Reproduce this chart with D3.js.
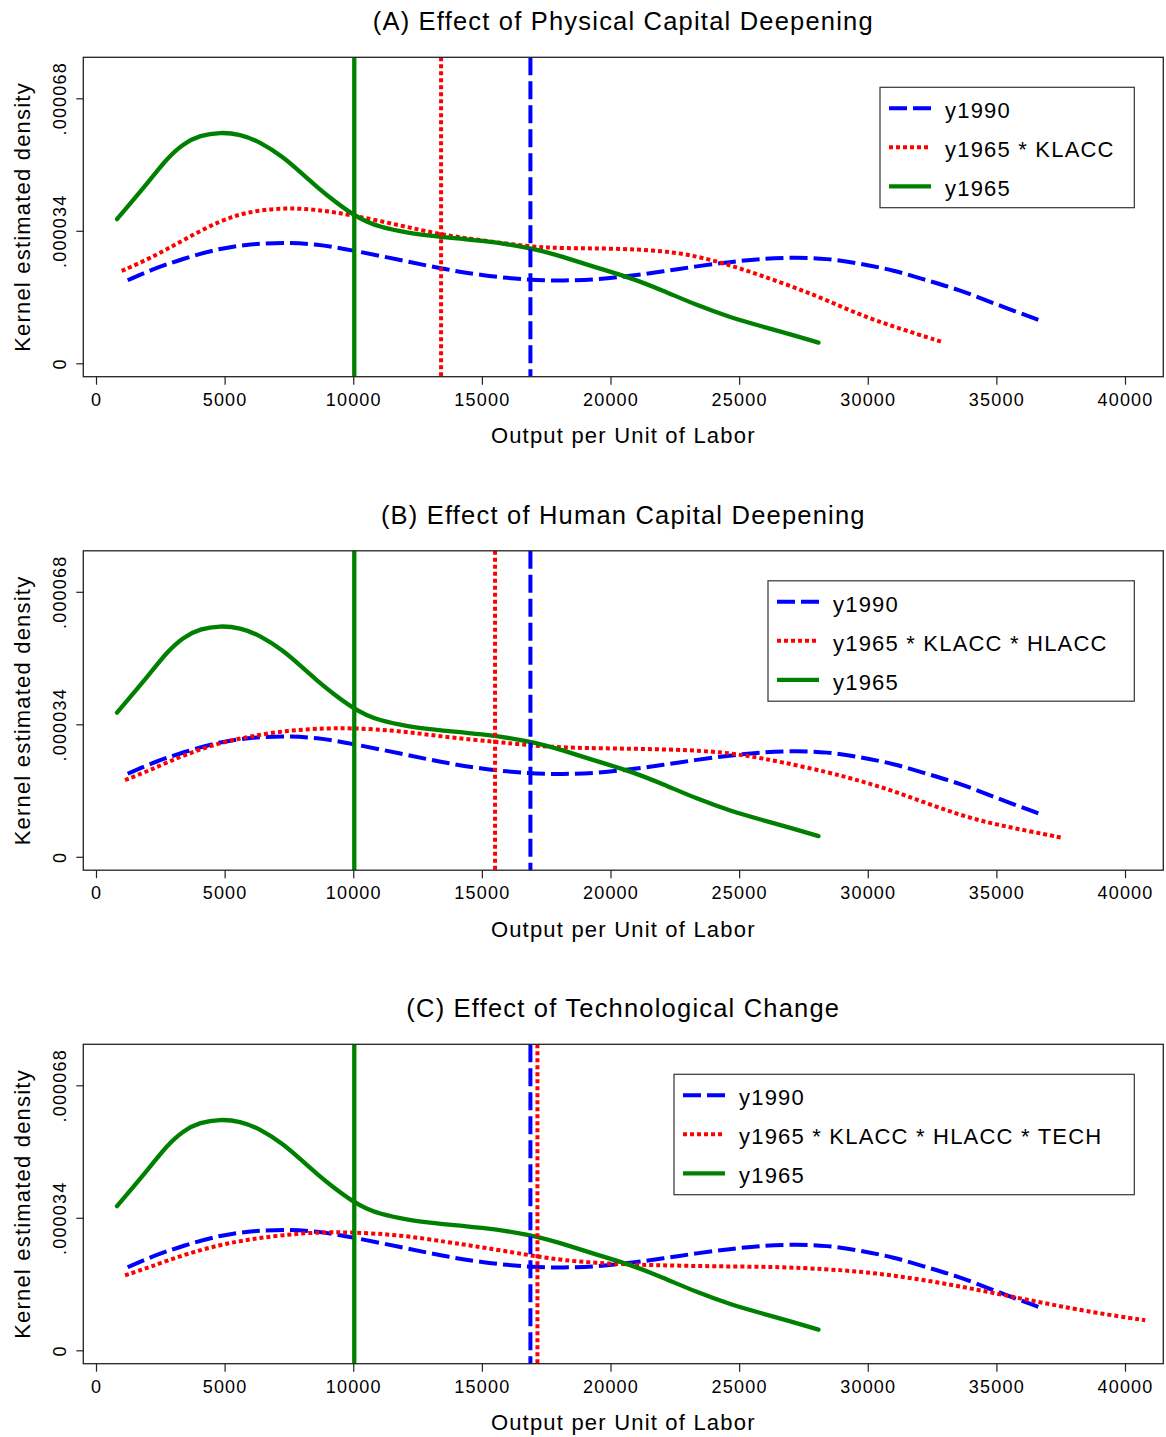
<!DOCTYPE html>
<html>
<head>
<meta charset="utf-8">
<script src="https://d3js.org/d3.v7.min.js"></script>
<style>
    body { margin: 0; background: #fff; }
    text {
        font-family: "Liberation Sans", Arial, Helvetica, sans-serif;
        fill: #000;
        letter-spacing: 1.2px;
    }
    .tick text { font-size: 18px; }
    .tick line { stroke: #222; stroke-width: 1.2px; }
    .title { font-size: 25.5px; }
    .axis-title { font-size: 22px; }
    .legend text { font-size: 22px; }
    .box { fill: none; stroke: #222; stroke-width: 1.3px; }
    .legend-box { fill: #fff; stroke: #333; stroke-width: 1.2px; }
</style>
</head>
<body>
<script>
    // density values are in units of 1e-6
    const xTicks = [0, 5000, 10000, 15000, 20000, 25000, 30000, 35000, 40000];
    const yTicks = [0, 34, 68];
    const yTickLabels = ["0", ".000034", ".000068"];

    // [output per worker, density]
    const y1965 = [[816, 37.0], [2100, 47.0], [2748, 52.5], [3396, 56.4], [4044, 58.5], [4821, 59.3],
        [5599, 58.8], [6376, 56.8], [7284, 52.9], [7932, 49.1], [8580, 45.3], [9227, 41.8],
        [9980, 38.2], [10525, 36.3], [11042, 35.0], [11820, 33.9], [12337, 33.2], [13414, 32.4],
        [14930, 31.6], [16887, 29.7], [18170, 27.3], [19467, 24.5], [20762, 22.0], [22057, 18.6],
        [23353, 14.9], [24650, 11.8], [25816, 9.6], [27112, 7.2], [28085, 5.3]];

    const y1990 = [[1232, 21.3], [2100, 23.9], [3396, 26.9], [4821, 29.5], [5988, 30.6], [7284, 31.0],
        [8580, 30.6], [9980, 29.0], [11820, 26.5], [13414, 24.3], [14930, 22.6], [16887, 21.3],
        [18170, 21.2], [19467, 21.5], [20762, 22.4], [22057, 23.6], [23353, 24.9], [24650, 26.0],
        [25816, 26.8], [27112, 27.2], [28408, 26.9], [29705, 25.6], [31000, 23.9], [32297, 21.3],
        [33593, 18.8], [34888, 15.4], [36769, 10.8]];

    const y1965K = [[998, 23.7], [2100, 26.9], [3396, 31.6], [4821, 36.7], [5988, 39.0], [7284, 39.9],
        [8580, 39.5], [9980, 38.0], [11820, 35.4], [13414, 33.0], [14930, 31.6], [16887, 29.9],
        [18170, 29.5], [20114, 29.5], [22057, 28.9], [23353, 27.5], [24650, 25.2], [25816, 22.6],
        [27112, 19.6], [28408, 16.2], [29705, 12.4], [31000, 9.4], [32880, 5.5]];

    const y1965KH = [[1128, 19.7], [2100, 22.2], [3396, 26.1], [4821, 29.3], [5988, 30.9], [7284, 32.3],
        [8580, 32.9], [9980, 33.1], [11820, 32.3], [13634, 30.7], [15513, 29.5], [16887, 28.6],
        [18170, 28.0], [20114, 27.8], [22057, 27.6], [24002, 27.1], [25298, 26.0], [26594, 24.4],
        [28408, 21.8], [29705, 19.5], [31000, 16.9], [32297, 13.7], [33593, 10.7], [34888, 8.4],
        [36185, 6.7], [37546, 4.9]];

    const y1965KHT = [[1128, 19.2], [2100, 21.4], [3396, 24.5], [4821, 27.1], [5988, 28.5], [7284, 29.6],
        [8580, 30.3], [9980, 30.3], [11820, 29.6], [13634, 27.8], [14930, 26.5], [16226, 25.1],
        [17133, 24.1], [18170, 23.1], [19467, 22.4], [20762, 22.0], [22705, 21.7], [24650, 21.5],
        [26594, 21.4], [28408, 20.8], [29705, 20.2], [31000, 19.2], [32297, 17.9], [33593, 16.4],
        [34888, 14.7], [36185, 13.0], [37482, 11.3], [38778, 9.7], [40786, 7.7]];

    // means drawn as vertical lines
    const meanY1965 = 10040;
    const meanY1990 = 16887;
    const counterMeans = [13414, 15513, 17160];

    const titles = ["(A) Effect of Physical Capital Deepening",
        "(B) Effect of Human Capital Deepening",
        "(C) Effect of Technological Change"];
    const counterLabels = ["y1965 * KLACC", "y1965 * KLACC * HLACC", "y1965 * KLACC * HLACC * TECH"];
    const counterSeries = [y1965K, y1965KH, y1965KHT];

    // layout
    const panelStep = 493.5;
    const legendLeft = [880, 768, 674];
    const box = { left: 83.3, right: 1163.3, top: 57.3, bottom: 376.7 };

    const styles = {
        blue: { color: "#0000ff", dash: "18,6", width: 4 },
        red: { color: "#ff0000", dash: "4,3", width: 4 },
        green: { color: "#008000", dash: null, width: 4.3 }
    };

    let svg = d3.select("body").append("svg")
        .attr("width", 1166)
        .attr("height", 1437);

    svg.append("rect").attr("width", 1166).attr("height", 1437).attr("fill", "#fff");

    let x = d3.scaleLinear().domain([0, 40000]).range([96, 1125]);

    function applyStyle(sel, s) {
        sel.attr("fill", "none")
            .attr("stroke", s.color)
            .attr("stroke-width", s.width)
            .attr("stroke-dasharray", s.dash)
            .attr("stroke-linecap", s.dash ? "butt" : "round")
            .attr("stroke-linejoin", "round");
    }

    function drawPanel(i) {
        let off = i * panelStep;
        let g = svg.append("g");
        let y = d3.scaleLinear().domain([0, 68]).range([363.3 + off, 98.3 + off]);

        g.append("text")
            .attr("class", "title")
            .attr("x", 623.3)
            .attr("y", 30 + off)
            .attr("text-anchor", "middle")
            .text(titles[i]);

        let clipId = "clip" + i;
        g.append("clipPath").attr("id", clipId)
            .append("rect")
            .attr("x", box.left).attr("y", box.top + off)
            .attr("width", box.right - box.left)
            .attr("height", box.bottom - box.top);

        let plot = g.append("g").attr("clip-path", "url(#" + clipId + ")");

        let line = d3.line()
            .x(d => x(d[0]))
            .y(d => y(d[1]))
            .curve(d3.curveBasis);

        plot.append("path").datum(y1990).attr("d", line).call(applyStyle, styles.blue);
        plot.append("path").datum(counterSeries[i]).attr("d", line).call(applyStyle, styles.red);
        plot.append("path").datum(y1965).attr("d", line).call(applyStyle, styles.green);

        // vertical mean lines
        let vlines = [
            { v: meanY1965, s: styles.green },
            { v: counterMeans[i], s: styles.red },
            { v: meanY1990, s: styles.blue }
        ];
        plot.selectAll(".vline")
            .data(vlines)
            .enter().append("line")
            .attr("class", "vline")
            .attr("x1", d => x(d.v)).attr("x2", d => x(d.v))
            .attr("y1", box.top + off).attr("y2", box.bottom + off)
            .each(function(d) { d3.select(this).call(applyStyle, d.s); })
            .attr("stroke-linecap", "butt");

        g.append("rect")
            .attr("class", "box")
            .attr("x", box.left).attr("y", box.top + off)
            .attr("width", box.right - box.left)
            .attr("height", box.bottom - box.top);

        // x axis
        let xAxis = g.append("g")
            .attr("transform", "translate(0," + (box.bottom + off) + ")")
            .call(d3.axisBottom(x).tickValues(xTicks).tickSize(8).tickPadding(8.5).tickFormat(d3.format("d")));
        xAxis.select(".domain").remove();
        xAxis.selectAll("text").attr("fill", "#000");

        // y axis with rotated labels
        let yAxis = g.append("g")
            .attr("transform", "translate(" + box.left + ",0)")
            .call(d3.axisLeft(y).tickValues(yTicks).tickSize(7).tickFormat((d, k) => yTickLabels[k]));
        yAxis.select(".domain").remove();
        yAxis.selectAll("text")
            .attr("fill", "#000")
            .attr("transform", "rotate(-90)")
            .attr("x", 0)
            .attr("y", -17.3)
            .attr("dy", 0)
            .attr("text-anchor", "middle");

        g.append("text")
            .attr("class", "axis-title")
            .attr("x", 623.3)
            .attr("y", 443 + off)
            .attr("text-anchor", "middle")
            .text("Output per Unit of Labor");

        g.append("text")
            .attr("class", "axis-title")
            .attr("transform", "translate(30," + (217 + off) + ") rotate(-90)")
            .attr("text-anchor", "middle")
            .text("Kernel estimated density");

        // legend
        let lx = legendLeft[i], ly = 87.3 + off;
        let legend = g.append("g").attr("class", "legend");
        legend.append("rect")
            .attr("class", "legend-box")
            .attr("x", lx).attr("y", ly)
            .attr("width", 1134.3 - lx)
            .attr("height", 120.4);

        let items = [
            { label: "y1990", s: styles.blue },
            { label: counterLabels[i], s: styles.red },
            { label: "y1965", s: styles.green }
        ];
        let rows = legend.selectAll(".row")
            .data(items)
            .enter().append("g")
            .attr("class", "row")
            .attr("transform", (d, k) => "translate(" + lx + "," + (ly + 21 + k * 39) + ")");
        rows.append("line")
            .attr("x1", 9).attr("x2", 51)
            .attr("y1", 0).attr("y2", 0)
            .each(function(d) { d3.select(this).call(applyStyle, d.s); })
            .attr("stroke-linecap", "butt");
        rows.append("text")
            .attr("x", 65)
            .attr("y", 10)
            .text(d => d.label);
    }

    [0, 1, 2].forEach(drawPanel);
</script>
</body>
</html>
